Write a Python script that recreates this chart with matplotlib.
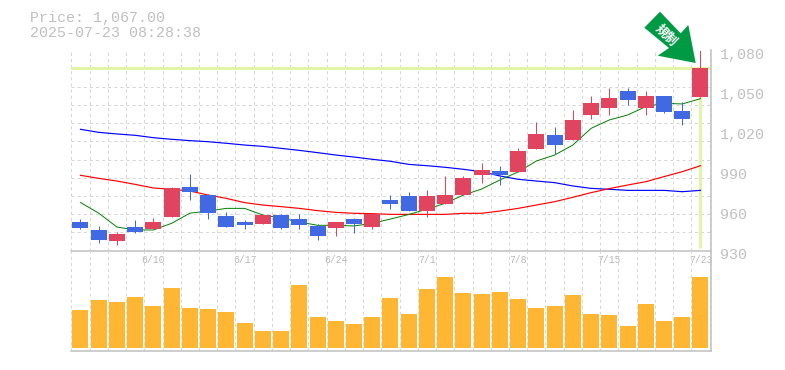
import numpy as np
import matplotlib
matplotlib.use("Agg")
import matplotlib.pyplot as plt
from matplotlib.patches import Polygon
from matplotlib.transforms import ScaledTranslation

plt.rcParams['lines.scale_dashes'] = False

title_price = "Price: 1,067.00"
title_time = "2025-07-23 08:28:38"
badge_text = "規制"

opens = [951,945.5,937,947.5,946,955,977.5,971.5,956,951.5,950,956.5,953.5,948.5,947,953.5,947.5,968,971,959.5,965,971.5,986.5,989.5,989,1006,1016.5,1013,1031.5,1037,1049.5,1037,1046,1034.5,1045]
closes = [947,938,942.5,944,951.5,977,974,958,947.5,949,956.5,947,949,941,951.5,950,957.5,965,959.5,971,971.5,984.5,990.5,986.5,1004.5,1017.5,1009,1028,1040.5,1044.5,1043,1046,1034,1028.5,1067]
highs = [953.5,948.5,944,953,954.5,977.5,987.5,972.5,959,953,956.5,957.5,957.5,950,951.5,954.5,957.5,971.5,974,975.5,986,986,995.5,993.5,1007,1026.5,1022.5,1035.5,1046,1052,1052,1049.5,1046,1041.5,1080.5]
lows = [946,935.5,934,943,946,955,968,953.5,947.5,946,950,946,946,938,941,943,946,961,959.5,955,965,971.5,980.5,979,989,1006,1002.5,1013,1028.5,1031.5,1039,1031.5,1033,1024,1045]
ma_short = [966,958,947.6,945.4,945.4,950.4,958,959.6,961.6,961.6,956.6,954.4,951.4,948.9,948.9,948.4,950.4,953.6,957,961,965.4,971.6,976.1,982.9,988.9,997.1,1001.6,1009.1,1021.6,1027.9,1031.6,1037.9,1040.4,1039.9,1043.9]
ma_mid = [986.4,984.1,982.1,979.6,976.9,975.9,974.6,971.6,969.1,965.9,964.1,962.9,961.6,959.9,958.6,957.9,957.6,957.1,957.1,957.1,957.1,957.9,957.9,959.6,961.6,964.1,966.6,969.9,973.4,976.4,979.1,981.6,985.4,989.1,993.6]
ma_long = [1020.9,1018.6,1017.4,1016.4,1014.6,1013.4,1012.4,1011.6,1010.4,1009.1,1008.1,1006.6,1005.1,1003.4,1001.6,1000.1,998.4,996.9,994.6,993.6,992.4,990.9,989.1,985.9,983.4,982.1,980.9,978.4,976.6,975.9,975.1,975.1,975.1,974.1,975.1]
volumes = [38,48,46,51,42,60,40,39,36,25,17,17,63,31,27,24,31,50,34,59,71,55,54,56,49,40,42,53,34,33,22,44,27,31,71]
date_labels = ["6/10","6/17","6/24","7/1","7/8","7/15","7/23"]
date_index = [4,9,14,19,24,29,34]
price_ticks = [1080,1050,1020,990,960,930]
price_labels = ["1,080","1,050","1,020","990","960","930"]
last_price = 1067.0

W, H = 785, 370
UP, DOWN = "#e0445f", "#4169e1"
GRID, AXIS, TXT = "#d6d6d6", "#c0c0c0", "#c0c0c0"
HILITE = "#e2f5a5"
VOLC = "#ffb733"
MONO = "Liberation Mono"

fig = plt.figure(figsize=(W/100, H/100), dpi=100)
def box(l, t, r, b):
    return [l/W, 1-b/H, (r-l)/W, (b-t)/H]

ax = fig.add_axes(box(70.5, 50.5, 710.5, 250.5))
vx = fig.add_axes(box(70.5, 250.5, 710.5, 350.5))
vx.patch.set_visible(False)

x = np.arange(len(closes))
xlim = (-0.548, 34.55)
dash = (0, (2.2, 2.2))
for a in (ax, vx):
    a.set_xlim(*xlim)
    for s in ("top", "left"):
        a.spines[s].set_visible(False)
    for s in ("right", "bottom"):
        a.spines[s].set_color(AXIS)
        a.spines[s].set_linewidth(1.1)
    a.set_xticks(np.r_[-0.5, x + 0.5], minor=True)
    a.grid(True, which="minor", axis="x", color=GRID, lw=0.72, ls=dash, zorder=0)
    a.tick_params(which="minor", length=0)
    a.set_axisbelow(True)

ax.set_ylim(930, 1080)
ax.set_yticks(np.linspace(930, 1080, 12), minor=True)
ax.grid(True, which="minor", axis="y", color=GRID, lw=0.72, ls=dash, zorder=0)
ax.yaxis.tick_right()
ax.set_yticks(price_ticks, price_labels, family=MONO, fontsize=10.8, color=TXT)
ax.tick_params(axis="y", which="major", length=0, pad=6.5)
off = ScaledTranslation(0, -2.5/72, fig.dpi_scale_trans)
for lab in ax.yaxis.get_majorticklabels():
    lab.set_transform(lab.get_transform() + off)
ax.set_xticks(date_index, date_labels, family=MONO, fontsize=7, color="#b8b8b8")
ax.tick_params(axis="x", which="major", length=0, pad=3.5)

ax.axhline(last_price, color=HILITE, lw=2.2, zorder=1.5)
ax.plot([34, 34], [932, last_price], color=HILITE, lw=2.2, zorder=1.5, solid_capstyle="butt")

for series, c, w, aa in ((ma_long, "#0000ff", 0.85, True), (ma_mid, "#ff0000", 0.85, True), (ma_short, "#008000", 0.7, True)):
    ax.plot(x, series, color=c, lw=w, zorder=2, antialiased=aa)

colors = [UP if c >= o else DOWN for o, c in zip(opens, closes)]
ax.vlines(x, lows, highs, colors=colors, lw=0.72, zorder=3)
bot = np.minimum(opens, closes)
ax.bar(x, np.abs(np.subtract(closes, opens)), bottom=bot, width=0.877, color=colors, zorder=3.5, lw=0)

vx.set_ylim(-2.5, 97.5)
vx.set_yticks([])
vx.tick_params(axis="x", which="major", length=0, labelbottom=False)
vx.set_xticks([])
vx.bar(x, volumes, width=0.877, color=VOLC, lw=0, zorder=3)

px = lambda pts: [(p/W, 1-q/H) for p, q in pts]
arrow = [(660, 11.7), (680.7, 33.3), (688.3, 25), (695.7, 63), (657.7, 55.7), (669, 48), (644.3, 27.7)]
fig.add_artist(Polygon(px(arrow), closed=True, transform=fig.transFigure, facecolor="#009944", edgecolor="none", zorder=5))
fig.text(666/W, 1-35/H, badge_text, rotation=-45, rotation_mode="anchor", ha="center", va="center",
         color="white", fontsize=9, fontweight="bold", family="Noto Sans CJK JP", zorder=6)

fig.text(30/W, 1-18/H, title_price, family=MONO, fontsize=10.8, color=TXT, ha="left", va="center")
fig.text(30/W, 1-33/H, title_time, family=MONO, fontsize=10.8, color=TXT, ha="left", va="center")

fig.savefig("out.png", dpi=100, facecolor="white")
